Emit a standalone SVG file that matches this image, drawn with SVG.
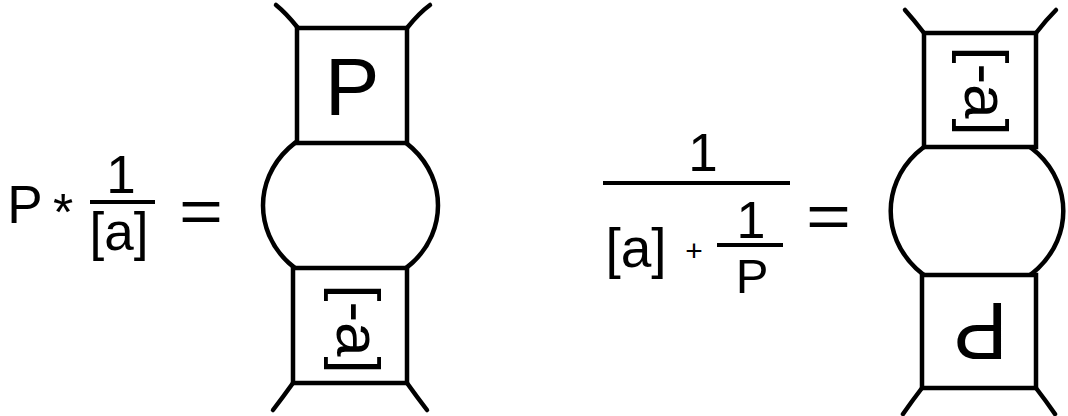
<svg xmlns="http://www.w3.org/2000/svg" width="1068" height="416" viewBox="0 0 1068 416">
<style>
text{font-family:"Liberation Sans",Arial,sans-serif;fill:#000}
.sh{fill:#fff;stroke:#000;stroke-width:4.5}
.leg{fill:none;stroke:#000;stroke-width:4.5;stroke-linecap:round}
.bar{stroke:#000;stroke-width:4}
</style>
<rect width="1068" height="416" fill="#fff"/>
<g id="formula-left">
<text x="25" y="223" font-size="53" text-anchor="middle">P</text>
<text x="63" y="230" font-size="52" text-anchor="middle">*</text>
<text x="121" y="193" font-size="53" text-anchor="middle">1</text>
<line class="bar" x1="90" y1="202" x2="155" y2="202"/>
<text x="119" y="250" font-size="53" text-anchor="middle">[a]</text>
<text x="201" y="232" font-size="62" text-anchor="middle" textLength="44" lengthAdjust="spacingAndGlyphs">=</text>
</g>
<g id="formula-right">
<text x="703" y="171" font-size="53" text-anchor="middle">1</text>
<line class="bar" x1="603" y1="183" x2="790" y2="183"/>
<text x="636" y="267" font-size="55" text-anchor="middle">[a]</text>
<text x="694" y="261" font-size="30" text-anchor="middle">+</text>
<text x="751" y="238" font-size="52" text-anchor="middle">1</text>
<line class="bar" x1="717" y1="245" x2="783" y2="245"/>
<text x="752" y="293" font-size="49" text-anchor="middle">P</text>
<text x="828.5" y="237" font-size="62" text-anchor="middle" textLength="45" lengthAdjust="spacingAndGlyphs">=</text>
</g>
<g id="connectors">
<path class="leg" d="M298 28 Q286 13 276 5"/>
<path class="leg" d="M407 28 Q419 13 430 5"/>
<path class="leg" d="M293 383 Q283 397 273 410"/>
<path class="leg" d="M407 383 Q417 397 427 410"/>
<path class="leg" d="M924 33 Q914 20 905 10"/>
<path class="leg" d="M1036 33 Q1046 20 1056 10"/>
<path class="leg" d="M922 388 Q912 401 903 414"/>
<path class="leg" d="M1036 388 Q1046 401 1055 414"/>
</g>
<g id="node-left-circle"><ellipse class="sh" cx="350.5" cy="205.5" rx="87.5" ry="81"/></g>
<g id="node-left-top">
<rect class="sh" x="297" y="28" width="110" height="115"/>
<text x="352" y="115" font-size="82" text-anchor="middle">P</text>
</g>
<g id="node-left-bottom">
<rect class="sh" x="293" y="268" width="114" height="115"/>
<text transform="translate(352.5 329) rotate(90)" x="0" y="16" font-size="62" text-anchor="middle">[-a]</text>
</g>
<g id="node-right-circle"><ellipse class="sh" cx="977" cy="211" rx="86.3" ry="81"/></g>
<g id="node-right-top">
<rect class="sh" x="924" y="33" width="112" height="114"/>
<text transform="translate(981 91) rotate(90)" x="0" y="16" font-size="62" text-anchor="middle">[-a]</text>
</g>
<g id="node-right-bottom">
<rect class="sh" x="922" y="275" width="114" height="113"/>
<text transform="translate(980.4 332) rotate(180)" x="0" y="29" font-size="82" text-anchor="middle">P</text>
</g>
</svg>
